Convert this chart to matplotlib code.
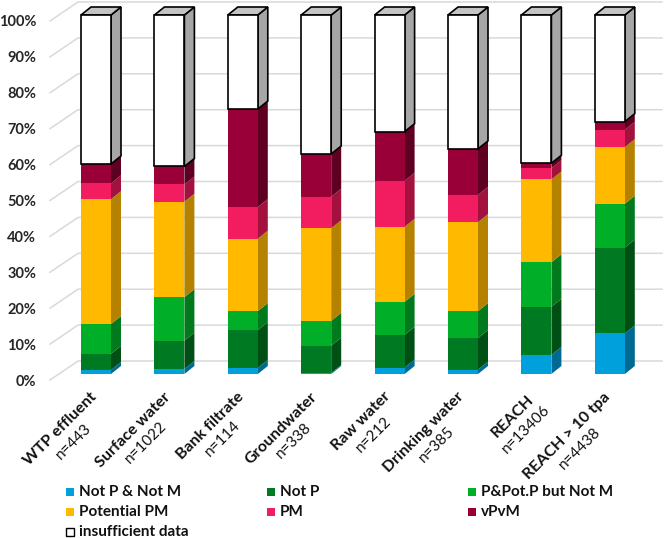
import matplotlib
matplotlib.use("Agg")
import matplotlib.pyplot as plt
from matplotlib.patches import Polygon, Rectangle
import numpy as np

# ---------------- data ----------------
categories = ["WTP effluent", "Surface water", "Bank filtrate", "Groundwater",
              "Raw water", "Drinking water", "REACH", "REACH > 10 tpa"]
n_counts = [443, 1022, 114, 338, 212, 385, 13406, 4438]

series_names = ["Not P & Not M", "Not P", "P&Pot.P but Not M",
                "Potential PM", "PM", "vPvM", "insufficient data"]

not_p_not_m = [1.1, 1.4, 1.7, 0.3, 1.8, 1.2, 5.3, 11.3]
not_p       = [4.5, 7.9, 10.5, 7.6, 9.1, 8.8, 13.4, 23.9]
p_pot_not_m = [8.3, 12.1, 5.3, 6.9, 9.2, 7.5, 12.4, 12.2]
potential_pm = [34.8, 26.6, 20.2, 25.8, 20.9, 24.8, 23.1, 15.8]
pm          = [4.4, 4.8, 8.8, 8.8, 12.8, 7.6, 3.1, 4.8]
vpvm        = [5.4, 5.0, 27.3, 11.9, 13.7, 12.8, 1.4, 2.3]
insufficient = [41.5, 42.2, 26.2, 38.7, 32.5, 37.3, 41.3, 29.7]

y_ticks = [0, 10, 20, 30, 40, 50, 60, 70, 80, 90, 100]

# ---------------- style ----------------
front_colors = ["#00A0DC", "#007A22", "#00AE28", "#FFBA00", "#F21C60", "#990038", "#FFFFFF"]
side_colors = ["#006A92", "#004F14", "#007A1C", "#B58200", "#A3123E", "#5E0022", "#A6A6A6"]
top_color = "#C4C4C4"
grid_color = "#D9D9D9"

plt.rcParams["font.family"] = ["Lato", "DejaVu Sans"]

W, H = 666, 538
fig = plt.figure(figsize=(W / 100, H / 100), dpi=100)

# layout in pixels
px_cat = 73.4      # pixels per category
px_pct = 3.59      # pixels per percent
x0_px = 96         # first bar center
y0_px = 374        # 0% on front face
ax_left_px, ax_right_px, ax_top_px, ax_bot_px = 50, 666, 0, 390

ax = fig.add_axes([ax_left_px / W, (H - ax_bot_px) / H,
                   (ax_right_px - ax_left_px) / W, (ax_bot_px - ax_top_px) / H])
ax.set_xlim((ax_left_px - x0_px) / px_cat, (ax_right_px - x0_px) / px_cat)
ax.set_ylim((y0_px - ax_bot_px) / px_pct, (y0_px - ax_top_px) / px_pct)
for s in ax.spines.values():
    s.set_visible(False)

bar_w = 30 / px_cat
dx = 10 / px_cat
dy = 8 / px_pct
back_dy = 13 / px_pct
front_dy = -6 / px_pct
wall_back_x = (78 - x0_px) / px_cat
grid_right_x = (662 - x0_px) / px_cat
wall_front_x = ax.get_xlim()[0]

# gridlines (back wall + left wall diagonals)
for v in y_ticks:
    ax.plot([wall_front_x, wall_back_x, grid_right_x],
            [v + front_dy, v + back_dy, v + back_dy],
            color=grid_color, lw=1.1, zorder=1, clip_on=False)

data = [not_p_not_m, not_p, p_pot_not_m, potential_pm, pm, vpvm, insufficient]
xpos = np.arange(len(categories))
bottom = np.zeros(len(categories))
for k, vals in enumerate(data):
    vals = np.array(vals, dtype=float)
    is_white = (k == len(data) - 1)
    ec = "black" if is_white else "none"
    lw = 1.2 if is_white else 0
    ax.bar(xpos, vals, width=bar_w, bottom=bottom, color=front_colors[k],
           edgecolor=ec, linewidth=lw, zorder=4)
    for i in range(len(categories)):
        xr = xpos[i] + bar_w / 2
        b, t = bottom[i], bottom[i] + vals[i]
        side = Polygon([(xr, b), (xr + dx, b + dy), (xr + dx, t + dy), (xr, t)],
                       closed=True, facecolor=side_colors[k],
                       edgecolor=ec, linewidth=lw, zorder=3)
        ax.add_patch(side)
        if is_white:
            xl = xpos[i] - bar_w / 2
            top = Polygon([(xl, t), (xr, t), (xr + dx, t + dy), (xl + dx, t + dy)],
                          closed=True, facecolor=top_color,
                          edgecolor="black", linewidth=lw, zorder=3)
            ax.add_patch(top)
    bottom = bottom + vals

# y axis ticks (labels aligned to the front of the left wall)
ax.set_yticks([v + front_dy for v in y_ticks], [f"{v}%" for v in y_ticks])
ax.tick_params(axis="y", length=0, pad=10, labelsize=10.5, labelcolor="#262626")
for lab in ax.get_yticklabels():
    lab.set_fontweight("bold")

# x axis: category labels (two centred lines, rotated 45 degrees)
ax.set_xticks(xpos, [""] * len(xpos))
ax.tick_params(axis="x", length=0)
name_fs, n_fs = 11.5, 11
line_px = 18.0                 # distance between the two lines
anchor_dx_px, anchor_y_px = 5, 401
renderer = fig.canvas.get_renderer()
c = s45 = np.sqrt(0.5)


def text_width(txt, **kw):
    t = fig.text(0, 0, txt, **kw)
    w = t.get_window_extent(renderer).width
    t.remove()
    return w


for i, (name, n) in enumerate(zip(categories, n_counts)):
    n_txt = f"n={n}"
    w1 = text_width(name, fontsize=name_fs, fontweight="bold")
    w2 = text_width(n_txt, fontsize=n_fs)
    half = max(w1, w2) / 2
    xy = (xpos[i] + anchor_dx_px / px_cat, (y0_px - anchor_y_px) / px_pct)
    for txt, v, fw, fs in [(name, line_px / 2, "bold", name_fs),
                           (n_txt, -line_px / 2, "normal", n_fs)]:
        u = -half
        ox = u * c - v * s45
        oy = u * s45 + v * c
        ax.annotate(txt, xy=xy, xycoords="data",
                    xytext=(ox * 0.72, oy * 0.72), textcoords="offset points",
                    rotation=45, rotation_mode="anchor", ha="center", va="center",
                    fontsize=fs, fontweight=fw, color="#111111",
                    annotation_clip=False)

# legend (manual, row-major in three columns)
col_sq_x = [66, 267, 468]
row_y = [492, 512, 532]
sq = 8
for k, name in enumerate(series_names):
    r, cc = divmod(k, 3)
    sx, sy = col_sq_x[cc], row_y[r]
    is_white = (k == len(series_names) - 1)
    rect = Rectangle((sx / W, (H - sy - sq / 2) / H), sq / W, sq / H,
                     transform=fig.transFigure, facecolor=front_colors[k],
                     edgecolor="black" if is_white else "none",
                     linewidth=1.0 if is_white else 0)
    fig.patches.append(rect)
    fig.text((sx + sq + 5) / W, (H - sy) / H, name, ha="left", va="center",
             fontsize=11, fontweight="bold", color="#111111")

fig.savefig("out.png", dpi=100)
